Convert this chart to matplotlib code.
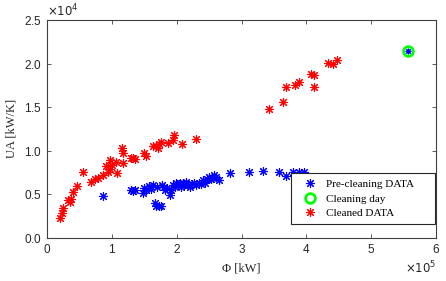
import matplotlib

matplotlib.use("Agg")
import matplotlib.pyplot as plt
from matplotlib.ticker import ScalarFormatter

# Pre-cleaning data (heat flow [kW], UA [kW/K])
pre_phi = [0.865e5, 1.30e5, 1.33e5, 1.36e5, 1.48e5, 1.50e5, 1.53e5, 1.58e5, 1.60e5,
           1.63e5, 1.66e5, 1.68e5, 1.70e5, 1.73e5, 1.76e5, 1.78e5, 1.80e5, 1.82e5,
           1.85e5, 1.89e5, 1.91e5, 1.94e5, 1.97e5, 1.99e5, 2.02e5, 2.05e5, 2.07e5,
           2.09e5, 2.12e5, 2.15e5, 2.17e5, 2.20e5, 2.23e5, 2.27e5, 2.30e5, 2.34e5,
           2.38e5, 2.40e5, 2.44e5, 2.47e5, 2.50e5, 2.53e5, 2.56e5, 2.58e5, 2.61e5,
           2.65e5, 2.83e5, 3.11e5, 3.33e5, 3.585e5, 3.69e5, 3.80e5, 3.88e5, 3.96e5]
pre_ua = [0.48e4, 0.55e4, 0.54e4, 0.55e4, 0.51e4, 0.57e4, 0.55e4, 0.59e4, 0.56e4,
          0.61e4, 0.395e4, 0.36e4, 0.58e4, 0.365e4, 0.36e4, 0.61e4, 0.58e4, 0.55e4,
          0.57e4, 0.49e4, 0.55e4, 0.60e4, 0.58e4, 0.625e4, 0.60e4, 0.63e4, 0.58e4,
          0.625e4, 0.60e4, 0.64e4, 0.61e4, 0.58e4, 0.62e4, 0.625e4, 0.60e4, 0.63e4,
          0.62e4, 0.66e4, 0.63e4, 0.68e4, 0.70e4, 0.67e4, 0.69e4, 0.72e4, 0.70e4,
          0.66e4, 0.74e4, 0.75e4, 0.77e4, 0.75e4, 0.71e4, 0.76e4, 0.76e4, 0.76e4]

# Cleaning day
day_phi = [5.57e5]
day_ua = [2.14e4]

# Cleaned data
post_phi = [0.20e5, 0.225e5, 0.25e5, 0.33e5, 0.35e5, 0.37e5, 0.40e5, 0.455e5, 0.55e5,
            0.685e5, 0.74e5, 0.79e5, 0.865e5, 0.915e5, 0.94e5, 0.965e5, 0.965e5,
            1.0e5, 1.07e5, 1.08e5, 1.155e5, 1.175e5, 1.17e5, 1.30e5, 1.32e5, 1.35e5,
            1.50e5, 1.52e5, 1.63e5, 1.68e5, 1.71e5, 1.73e5, 1.76e5, 1.86e5, 1.94e5,
            1.96e5, 2.075e5, 2.30e5, 3.43e5, 3.645e5, 3.685e5, 3.82e5, 3.885e5,
            4.07e5, 4.12e5, 4.115e5, 4.335e5, 4.41e5, 4.48e5]
post_ua = [0.23e4, 0.28e4, 0.34e4, 0.43e4, 0.41e4, 0.45e4, 0.53e4, 0.59e4, 0.75e4,
           0.64e4, 0.67e4, 0.69e4, 0.72e4, 0.82e4, 0.76e4, 0.79e4, 0.89e4,
           0.84e4, 0.87e4, 0.74e4, 1.03e4, 0.97e4, 0.855e4, 0.92e4, 0.91e4, 0.90e4,
           0.97e4, 0.94e4, 1.05e4, 1.05e4, 1.03e4, 1.08e4, 1.10e4, 1.085e4, 1.12e4,
           1.18e4, 1.08e4, 1.135e4, 1.475e4, 1.56e4, 1.73e4, 1.755e4, 1.79e4,
           1.88e4, 1.87e4, 1.73e4, 2.01e4, 2.00e4, 2.04e4]

AX = "#404040"
TXT = "#262626"
ast = (8, 2, 0)  # asterisk marker, MATLAB-like '*'

fig = plt.figure(figsize=(4.46, 2.81), dpi=100)
ax = fig.add_axes([0.1054, 0.154, 0.8722, 0.7748])

ax.plot(pre_phi, pre_ua, ls="none", marker=ast, ms=6.5, mew=0.8, color="#0000ff",
        label="Pre-cleaning DATA")
ax.plot(day_phi, day_ua, ls="none", marker="o", ms=7, mew=2, mfc="none",
        mec="#00ff00", label="Cleaning day")
ax.plot(post_phi, post_ua, ls="none", marker=ast, ms=6.5, mew=0.8, color="#ff0000",
        label="Cleaned DATA")
ax.plot(day_phi, day_ua, ls="none", marker=ast, ms=4, mew=0.8, color="#0000ff")

ax.set_xlim(0, 6e5)
ax.set_ylim(0, 2.5e4)
ax.set_xticks([0, 1e5, 2e5, 3e5, 4e5, 5e5, 6e5])
ax.set_yticks([0, 0.5e4, 1e4, 1.5e4, 2e4, 2.5e4])
for axis in (ax.xaxis, ax.yaxis):
    fmt = ScalarFormatter(useMathText=True)
    fmt.set_powerlimits((0, 0))
    axis.set_major_formatter(fmt)

ax.tick_params(direction="in", top=True, right=True, length=3, width=0.6,
               colors=AX, labelsize=8.5, labelcolor=TXT)
for sp in ax.spines.values():
    sp.set_color(AX)
    sp.set_linewidth(0.8)
for lab in ax.get_xticklabels() + ax.get_yticklabels():
    lab.set_family("Liberation Sans")
for off in (ax.xaxis.get_offset_text(), ax.yaxis.get_offset_text()):
    off.set_fontsize(8.5)
    off.set_color(TXT)

ax.set_xlabel("Φ [kW]", family="Liberation Serif", fontsize=9, color=TXT, labelpad=5)
ax.set_ylabel("UA [kW/K]", family="Liberation Serif", fontsize=9, color=TXT, labelpad=5)

# legend box stretched to the reference's width
leg = ax.legend(loc="lower left", bbox_to_anchor=(0.6265, 0.0616, 0.372, 0.234),
                mode="expand", prop={"family": "Liberation Serif", "size": 8},
                frameon=True, fancybox=False, edgecolor=TXT, framealpha=1,
                handlelength=2.3, handletextpad=0.35, borderpad=0.55,
                labelspacing=0.42, borderaxespad=0.0)
leg.get_frame().set_linewidth(0.8)

fig.savefig("out.png", dpi=100)
